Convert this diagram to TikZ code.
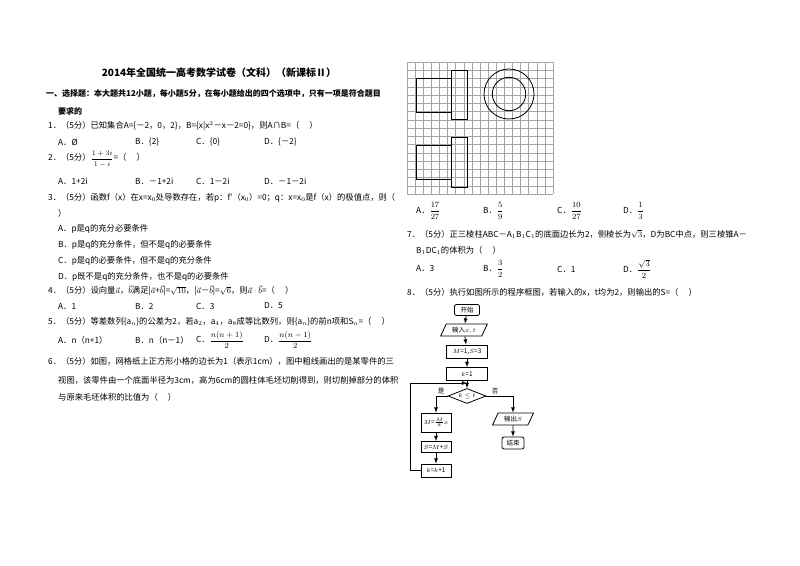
\documentclass[tikz,border=0pt]{standalone}
\usepackage{amsmath}
\usepackage{fontspec}
\setmainfont{Noto Sans CJK SC}
\usetikzlibrary{shapes.geometric}
\begin{document}
\begin{tikzpicture}[x=1pt,y=-1pt,
  tx/.style={anchor=west,inner sep=0pt,font=\fontsize{8.3}{9}\selectfont},
  bx/.style={draw,thick,minimum width=41pt,minimum height=13pt,inner sep=0pt,font=\fontsize{6.5}{7}\selectfont},
  io/.style={draw,thick,trapezium,trapezium left angle=65,trapezium right angle=115,minimum width=34pt,minimum height=12pt,inner sep=1pt,font=\fontsize{6.5}{7}\selectfont},
  ar/.style={-latex,thick}]
\useasboundingbox (0,0) rectangle (800,565);
\fill[white] (0,0) rectangle (800,565);
% left column
\node[anchor=center,inner sep=0pt,font=\fontsize{10}{11}\selectfont\bfseries] (title) at (219,73) {2014年全国统一高考数学试卷（文科）（新课标Ⅱ）};
\node[tx,font=\fontsize{8}{9}\selectfont\bfseries] (h1) at (46,94) {一、选择题：本大题共12小题，每小题5分，在每小题给出的四个选项中，只有一项是符合题目};
\node[tx,font=\fontsize{8}{9}\selectfont\bfseries] (h2) at (58,111) {要求的};
\node[tx] (q1) at (48,126) {1．（5分）已知集合A=\{－2，0，2\}，B=\{x|x$^2$－x－2=0\}，则A∩B=（\quad\ ）};
\node[tx] (a1) at (58,142) {A．Ø};
\node[tx] (b1) at (135,142) {B．\{2\}};
\node[tx] (c1) at (196,142) {C．\{0\}};
\node[tx] (d1) at (264,142) {D．\{－2\}};
\node[tx] (q2) at (48,159) {2．（5分）{\fontsize{7}{8}\selectfont$\dfrac{1+3i}{1-i}$}=（\quad\ ）};
\node[tx] (a2) at (58,181) {A．1+2i};
\node[tx] (b2) at (135,181) {B．－1+2i};
\node[tx] (c2) at (196,181) {C．1－2i};
\node[tx] (d2) at (264,181) {D．－1－2i};
\node[tx] (q3) at (48,198) {3．（5分）函数f（x）在x=x$_0$处导数存在，若p：f′（x$_0$）=0；q：x=x$_0$是f（x）的极值点，则（};
\node[tx] (q3b) at (58,213) {）};
\node[tx] (a3) at (58,229) {A．p是q的充分必要条件};
\node[tx] (b3) at (58,245) {B．p是q的充分条件，但不是q的必要条件};
\node[tx] (c3) at (58,261) {C．p是q的必要条件，但不是q的充分条件};
\node[tx] (d3) at (58,277) {D．p既不是q的充分条件，也不是q的必要条件};
\node[tx] (q4) at (48,291) {4．（5分）设向量$\vec{a}$，$\vec{b}$满足|$\vec{a}$+$\vec{b}$|=$\sqrt{10}$，|$\vec{a}$－$\vec{b}$|=$\sqrt{6}$，则$\vec{a}\cdot\vec{b}$=（\quad\ ）};
\node[tx] (a4) at (58,306) {A．1};
\node[tx] (b4) at (135,306) {B．2};
\node[tx] (c4) at (196,306) {C．3};
\node[tx] (d4) at (264,306) {D．5};
\node[tx] (q5) at (48,322) {5．（5分）等差数列\{a$_n$\}的公差为2，若a$_2$，a$_4$，a$_8$成等比数列，则\{a$_n$\}的前n项和S$_n$=（\quad\ ）};
\node[tx] (a5) at (58,340) {A．n（n+1）};
\node[tx] (b5) at (135,340) {B．n（n－1）};
\node[tx] (c5) at (196,340) {C．$\dfrac{n(n+1)}{2}$};
\node[tx] (d5) at (264,340) {D．$\dfrac{n(n-1)}{2}$};
\node[tx] (q6) at (48,361) {6．（5分）如图，网格纸上正方形小格的边长为1（表示1cm），图中粗线画出的是某零件的三};
\node[tx] (q6b) at (58,380) {视图，该零件由一个底面半径为3cm，高为6cm的圆柱体毛坯切削得到，则切削掉部分的体积};
\node[tx] (q6c) at (58,397) {与原来毛坯体积的比值为（\quad\ ）};
% grid
\foreach \i in {0,...,18} \draw[gray!70,line width=0.4pt] ({407+\i*146/18},62) -- ({407+\i*146/18},194);
\foreach \j in {0,...,16} \draw[gray!70,line width=0.4pt] (407,{62+\j*132/16}) -- (553,{62+\j*132/16});
\draw[thick] (416,78) rectangle (451,112);
\draw[thick] (451,70) rectangle (467,119);
\draw[thick] (416,145) rectangle (451,179);
\draw[thick] (451,137) rectangle (467,187);
\draw[thick] (509,94) circle (25);
\draw[thick] (509,94) circle (16.7);
% right column text
\node[tx] (a6) at (416,211) {A．$\dfrac{17}{27}$};
\node[tx] (b6) at (483,211) {B．$\dfrac{5}{9}$};
\node[tx] (c6) at (557,211) {C．$\dfrac{10}{27}$};
\node[tx] (d6) at (623,211) {D．$\dfrac{1}{3}$};
\node[tx] (q7) at (407,234) {7．（5分）正三棱柱ABC－A$_1$B$_1$C$_1$的底面边长为2，侧棱长为$\sqrt{3}$，D为BC中点，则三棱锥A－};
\node[tx] (q7b) at (416,250) {B$_1$DC$_1$的体积为（\quad\ ）};
\node[tx] (a7) at (416,269) {A．3};
\node[tx] (b7) at (483,269) {B．$\dfrac{3}{2}$};
\node[tx] (c7) at (557,269) {C．1};
\node[tx] (d7) at (623,269) {D．$\dfrac{\sqrt{3}}{2}$};
\node[tx] (q8) at (407,292) {8．（5分）执行如图所示的程序框图，若输入的x，t均为2，则输出的S=（\quad\ ）};
% flowchart
\node[bx,rounded corners=2pt,minimum width=25pt,minimum height=11pt] (st) at (467,310) {开始};
\node[io] (in) at (464,330) {输入$x,t$};
\node[bx] (m1) at (467,351.5) {$M$=1,$S$=3};
\node[bx] (k1) at (467,374) {$k$=1};
\node[draw,thick,diamond,aspect=2.6,minimum width=38pt,minimum height=15pt,inner sep=0pt,font=\fontsize{6.5}{7}\selectfont] (dm) at (467,396) {$k\le t$};
\node[bx,minimum width=30pt,minimum height=19pt] (mm) at (436,422.5) {$M$=$\frac{M}{k}x$};
\node[bx,minimum width=30pt,minimum height=11pt] (ss) at (436,447) {$S$=$M$+$S$};
\node[bx,minimum width=30pt,minimum height=13pt] (kk) at (436,470.5) {$k$=$k$+1};
\node[io,minimum width=36pt] (out) at (513,419) {输出$S$};
\node[bx,rounded corners=2pt,minimum width=22pt,minimum height=12pt] (en) at (513,443) {结束};
\coordinate (j) at (467,383);
\draw[ar] (st) -- (in);
\draw[ar] (in) -- (m1);
\draw[ar] (m1) -- (k1);
\draw[thick] (k1) -- (j);
\draw[ar] (j) -- (dm);
\draw[ar] (dm.west) -| (mm.north);
\draw[ar] (dm.east) -| (out.north);
\draw[ar] (mm) -- (ss);
\draw[ar] (ss) -- (kk);
\draw[ar] (out) -- (en);
\draw[ar] (kk.west) -- ++(-10,0) |- (j);
\node[inner sep=0pt,font=\fontsize{6.5}{7}\selectfont] (yes) at (441,391) {是};
\node[inner sep=0pt,font=\fontsize{6.5}{7}\selectfont] (no) at (495,391) {否};
\end{tikzpicture}
\end{document}
